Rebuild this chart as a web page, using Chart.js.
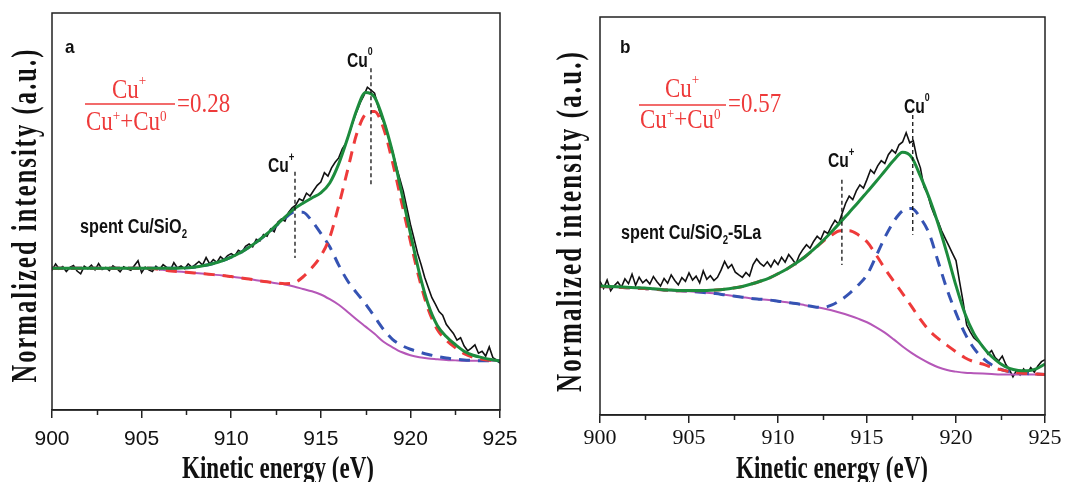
<!DOCTYPE html>
<html>
<head>
<meta charset="utf-8">
<script src="https://cdn.jsdelivr.net/npm/chart.js@4.4.1/dist/chart.umd.min.js"></script>
<style>
body { margin: 0; background: #fff; }
.panel { position: absolute; top: 0; width: 536px; height: 482px; }
</style>
</head>
<body>
<div class="panel" style="left:0"><canvas id="graficoA" width="536" height="482"></canvas></div>
<div class="panel" style="left:536px"><canvas id="graficoB" width="536" height="482"></canvas></div>
<script>
// rejilla de energia (eV): ajuste cada 0.5, medida cada 0.2
const energiaAjuste = []
for (let i = 0; i <= 50; i++) energiaAjuste.push(900 + i * 0.5)
const energiaMedida = []
for (let i = 0; i <= 125; i++) energiaMedida.push(Math.round((900 + i * 0.2) * 10) / 10)

const ticksX = [900, 905, 910, 915, 920, 925]
const ticksMenores = [902.5, 907.5, 912.5, 917.5, 922.5]

// ---- panel a: spent Cu/SiO2 ----
const medidaA = [
    35.2, 36.8, 35.5, 36.1, 34.9,
    35.9, 36.4, 35.0, 34.3, 36.2,
    35.6, 36.5, 35.3, 36.9, 35.4,
    35.9, 35.1, 36.3, 35.7, 34.8,
    36.1, 35.6, 35.2, 36.4, 37.6,
    34.6, 36.0, 35.3, 34.9, 36.2,
    35.4, 36.6, 35.9, 35.2, 37.1,
    35.8, 36.3, 35.6, 36.8, 36.0,
    36.6, 37.4, 36.5, 38.4, 36.8,
    37.9, 37.2, 38.6, 37.9, 38.9,
    39.4, 38.8, 40.2, 39.7, 41.2,
    41.8, 41.1, 43.0, 42.6, 44.2,
    43.8, 45.6, 44.9, 47.3, 48.1,
    47.6, 49.8, 50.9, 51.6, 53.2,
    52.7, 54.6, 53.9, 55.3, 56.6,
    57.4, 59.8, 58.9, 61.0, 62.4,
    63.5, 65.8, 67.2, 69.9, 72.6,
    75.1, 77.4, 79.2, 81.3, 80.6,
    79.8, 76.4, 73.5, 71.8, 68.2,
    65.3, 61.6, 58.4, 55.2, 51.0,
    46.8, 43.2, 39.5, 36.6, 33.4,
    30.8, 28.3, 26.6, 24.8, 23.9,
    21.6, 20.4, 19.3, 17.6, 18.2,
    16.1, 14.9, 15.6, 16.4, 14.3,
    14.8, 13.6, 15.9, 13.2, 12.6,
    11.8
]
const ajusteA = [
    35.7, 35.7, 35.7, 35.7, 35.7, 35.7, 35.7, 35.7, 35.7, 35.7,
    35.7, 35.7, 35.7, 35.7, 35.7, 35.8, 36.0, 36.4, 36.9, 37.6,
    38.5, 39.6, 41.0, 42.6, 44.4, 46.5, 48.6, 50.6, 52.1, 53.4,
    54.7, 57.2, 62.0, 68.5, 75.5, 80.0, 78.8, 73.0, 65.0, 55.0,
    44.5, 34.5, 26.5, 21.3, 18.5, 16.5, 14.8, 13.8, 13.2, 12.7,
    12.4
]
const cu0A = [
    35.7, 35.7, 35.7, 35.7, 35.7, 35.7, 35.7, 35.7, 35.7, 35.7,
    35.7, 35.7, 35.4, 35.1, 34.9, 34.7, 34.5, 34.3, 34.1, 33.9,
    33.6, 33.3, 33.0, 32.6, 32.3, 32.0, 31.8, 32.0, 33.5, 35.8,
    38.8, 43.5, 51.5, 60.5, 69.5, 74.5, 75.2, 71.0, 62.5, 52.5,
    42.5, 33.0, 25.3, 20.3, 17.6, 15.7, 14.2, 13.3, 12.8, 12.5,
    12.4
]
const cuMasA = [
    35.7, 35.7, 35.7, 35.7, 35.7, 35.7, 35.7, 35.7, 35.7, 35.7,
    35.7, 35.7, 35.7, 35.7, 35.7, 35.8, 36.0, 36.4, 36.9, 37.6,
    38.5, 39.6, 41.0, 42.6, 44.4, 46.4, 48.3, 49.8, 49.8, 47.6,
    44.5, 41.1, 36.5, 32.5, 29.5, 26.7, 23.5, 20.3, 17.8, 16.3,
    15.3, 14.6, 14.0, 13.5, 13.1, 12.8, 12.6, 12.5, 12.4, 12.4,
    12.4
]
const fondoA = [
    35.7, 35.7, 35.7, 35.7, 35.7, 35.7, 35.7, 35.7, 35.7, 35.7,
    35.7, 35.7, 35.4, 35.1, 34.9, 34.7, 34.5, 34.3, 34.1, 33.9,
    33.6, 33.3, 33.0, 32.6, 32.3, 31.9, 31.6, 31.1, 30.5, 29.9,
    29.1, 27.9, 26.5, 24.7, 22.8, 21.0, 19.2, 17.2, 15.8, 14.6,
    13.8, 13.3, 13.0, 12.8, 12.6, 12.5, 12.4, 12.4, 12.4, 12.4,
    12.4
]
// lineas verticales: [energia, y arriba, y abajo]
const marcaCu0A = [917.8, 86.1, 56.7]
const marcaCuMasA = [913.56, 60.0, 38.3]

// ---- panel b: spent Cu/SiO2-5La ----
const medidaB = [
    33.6, 31.8, 33.9, 31.2, 32.5,
    33.4, 32.1, 34.2, 33.0, 35.4,
    32.6, 34.6, 33.2, 34.0, 32.9,
    34.8, 33.5, 32.4, 34.3, 33.1,
    35.2, 33.8, 32.7, 34.5, 33.6,
    35.7, 33.9, 34.9, 33.2, 36.2,
    34.1, 35.0, 33.8, 34.6, 36.4,
    38.6, 36.9, 37.8, 35.9, 35.2,
    34.6, 35.8, 34.9, 37.8, 39.2,
    38.1, 37.4, 38.5, 37.2, 38.9,
    37.8, 39.6, 38.4, 40.3, 39.2,
    37.9, 40.2, 41.6, 42.8, 41.9,
    43.6, 44.9, 44.1, 46.2, 45.6,
    47.4, 48.9, 48.0, 50.6, 53.2,
    55.0, 54.1, 56.3, 57.8, 57.0,
    59.2, 61.6, 60.7, 62.6, 63.9,
    63.2, 65.4, 66.6, 65.8, 67.9,
    68.6, 70.9, 68.4, 68.9, 64.6,
    62.1, 57.3, 55.6, 52.4, 50.1,
    48.6, 46.2, 44.3, 42.5, 40.6,
    38.8, 33.5, 28.4, 22.6, 20.9,
    19.4, 18.6, 17.9, 16.8, 15.3,
    16.2, 14.4, 13.6, 14.8, 12.7,
    11.4, 9.6, 11.2, 10.1, 11.6,
    10.4, 11.9, 10.8, 12.3, 13.4,
    13.9
]
const ajusteB = [
    32.4, 32.3, 32.2, 32.1, 32.0, 31.9, 31.7, 31.5, 31.4, 31.3,
    31.3, 31.3, 31.3, 31.4, 31.6, 31.9, 32.3, 32.9, 33.6, 34.4,
    35.5, 36.7, 38.1, 39.7, 41.6, 43.7, 46.0, 48.4, 50.9, 53.4,
    56.0, 58.6, 61.3, 64.0, 66.0, 64.8, 60.0, 54.5, 48.0, 40.5,
    32.5, 25.5, 20.5, 17.2, 14.7, 12.9, 11.7, 11.2, 11.1, 11.6,
    12.8
]
const cuMasB = [
    32.3, 32.2, 32.1, 32.0, 31.9, 31.8, 31.6, 31.5, 31.3, 31.2,
    31.2, 31.2, 31.3, 31.4, 31.6, 31.9, 32.3, 32.9, 33.6, 34.4,
    35.5, 36.7, 38.1, 39.7, 41.6, 43.5, 45.2, 46.3, 46.3, 45.3,
    43.5, 40.3, 36.8, 33.6, 30.5, 27.3, 24.0, 21.2, 19.2, 17.5,
    15.9, 14.4, 13.4, 12.8, 12.0, 11.4, 10.9, 10.6, 10.4, 10.3,
    10.2
]
const cu0B = [
    32.3, 32.2, 32.1, 32.0, 31.9, 31.8, 31.6, 31.5, 31.3, 31.2,
    31.1, 30.9, 30.7, 30.5, 30.2, 29.9, 29.6, 29.3, 29.1, 28.9,
    28.6, 28.3, 28.0, 27.6, 27.2, 27.0, 27.6, 28.8, 30.5, 32.6,
    35.2, 39.8, 44.6, 48.6, 51.3, 51.9, 49.5, 45.5, 38.5, 31.5,
    25.6, 20.5, 16.8, 14.3, 12.6, 11.5, 10.9, 10.6, 10.4, 10.3,
    10.2
]
const fondoB = [
    32.3, 32.2, 32.1, 32.0, 31.9, 31.8, 31.6, 31.5, 31.3, 31.2,
    31.1, 30.9, 30.7, 30.5, 30.2, 29.9, 29.6, 29.3, 29.1, 28.9,
    28.6, 28.3, 28.0, 27.6, 27.2, 26.8, 26.3, 25.7, 25.0, 24.2,
    23.3, 22.1, 20.7, 19.0, 17.2, 15.6, 14.2, 13.0, 12.0, 11.3,
    10.9, 10.6, 10.5, 10.4, 10.3, 10.2, 10.2, 10.2, 10.2, 10.2,
    10.2
]
const marcaCu0B = [917.57, 75.4, 45.3]
const marcaCuMasB = [913.59, 59.1, 37.7]

const rojo = "#ee3a3a"
const azul = "#3553b3"
const verde = "#1d8c3d"
const morado = "#b557b8"

const serif = (s, b) => `${b ? "bold " : ""}${s}px "Liberation Serif", "Times New Roman", serif`
const sansB = s => `bold ${s}px "Liberation Sans", Arial, sans-serif`

function puntos(xs, ys) {
    return ys.map((y, i) => ({ x: xs[i], y: y }))
}

function marca(m) {
    return [{ x: m[0], y: m[1] }, { x: m[0], y: m[2] }]
}

// dibuja trozos de texto seguidos (superindices / subindices)
function trozos(ctx, x, y, partes, color) {
    ctx.save()
    ctx.fillStyle = color
    ctx.textBaseline = "alphabetic"
    ctx.textAlign = "left"
    for (const p of partes) {
        ctx.font = p.f
        const w = ctx.measureText(p.t).width * p.sx
        ctx.save()
        ctx.translate(x, y + (p.dy || 0))
        ctx.scale(p.sx, 1)
        ctx.fillText(p.t, 0, 0)
        ctx.restore()
        x += w
    }
    ctx.restore()
    return x
}

function textoAjustado(ctx, s, font, largo, espacio) {
    ctx.font = font
    ctx.letterSpacing = espacio || "0px"
    const w = ctx.measureText(s).width
    ctx.textAlign = "center"
    ctx.textBaseline = "alphabetic"
    ctx.scale(largo / w, 1)
    ctx.fillText(s, 0, 0)
}

function crearPanel(id, p) {
    const anotaciones = {
        id: "anotaciones",
        afterDraw(chart) {
            const ctx = chart.ctx
            const a = chart.chartArea
            const sx = chart.scales.x
            ctx.save()
            ctx.strokeStyle = "#222"
            ctx.lineWidth = 1.5
            ctx.strokeRect(a.left, a.top, a.right - a.left, a.bottom - a.top)
            ctx.beginPath()
            ticksMenores.forEach(v => {
                const x = Math.round(sx.getPixelForValue(v)) + 0.5
                ctx.moveTo(x, a.bottom)
                ctx.lineTo(x, a.bottom + 5)
            })
            ctx.stroke()

            // titulo eje x
            ctx.fillStyle = "#111"
            ctx.save()
            ctx.translate(p.tituloX[0], p.tituloX[1])
            textoAjustado(ctx, "Kinetic energy (eV)", serif(31, true), 192)
            ctx.restore()

            // titulo eje y
            ctx.save()
            ctx.translate(p.tituloY[0], p.tituloY[1])
            ctx.rotate(-Math.PI / 2)
            textoAjustado(ctx, "Normalized intensity (a.u.)", serif(35, true), p.tituloY[2], "3px")
            ctx.restore()

            // letra del panel
            trozos(ctx, p.letra[0], p.letra[1], [{ t: p.letra[2], f: sansB(19), sx: 0.9 }], "#111")

            // fraccion roja
            const f = p.fraccion
            trozos(ctx, f.num[0], f.num[1], [
                { t: "Cu", f: serif(27), sx: 0.85 },
                { t: "+", f: serif(15), sx: 0.88, dy: -13 }
            ], rojo)
            ctx.strokeStyle = rojo
            ctx.lineWidth = 1.5
            ctx.beginPath()
            ctx.moveTo(f.linea[0], f.linea[2])
            ctx.lineTo(f.linea[1], f.linea[2])
            ctx.stroke()
            trozos(ctx, f.den[0], f.den[1], [
                { t: "Cu", f: serif(27), sx: 0.85 },
                { t: "+", f: serif(15), sx: 0.88, dy: -10 },
                { t: "+Cu", f: serif(27), sx: 0.85 },
                { t: "0", f: serif(15), sx: 0.88, dy: -9 }
            ], rojo)
            trozos(ctx, f.igual[0], f.igual[1], [{ t: f.igual[2], f: serif(27), sx: 0.85 }], rojo)

            // etiquetas Cu0 / Cu+
            trozos(ctx, p.cu0[0], p.cu0[1], [
                { t: "Cu", f: sansB(20), sx: 0.78 },
                { t: "0", f: sansB(11), sx: 0.8, dy: -12 }
            ], "#111")
            trozos(ctx, p.cuMas[0], p.cuMas[1], [
                { t: "Cu", f: sansB(20), sx: 0.78 },
                { t: "+", f: sansB(12), sx: 0.8, dy: -11 }
            ], "#111")

            // nombre de la muestra
            trozos(ctx, p.muestra[0], p.muestra[1], p.muestra[2], "#111")
            ctx.restore()
        }
    }

    new Chart(document.getElementById(id), {
        type: "line",
        data: {
            datasets: [
                { data: marca(p.m0), borderColor: "#111", borderWidth: 1.3, borderDash: [4, 3], pointRadius: 0 },
                { data: marca(p.mMas), borderColor: "#111", borderWidth: 1.3, borderDash: [4, 3], pointRadius: 0 },
                { data: puntos(energiaAjuste, p.ajuste), borderColor: verde, borderWidth: 3, pointRadius: 0, cubicInterpolationMode: "monotone" },
                { data: puntos(energiaAjuste, p.rojo), borderColor: rojo, borderWidth: 3, borderDash: [11, 8], pointRadius: 0, cubicInterpolationMode: "monotone" },
                { data: puntos(energiaAjuste, p.azul), borderColor: azul, borderWidth: 3, borderDash: [11, 8], pointRadius: 0, cubicInterpolationMode: "monotone" },
                { data: puntos(energiaAjuste, p.fondo), borderColor: morado, borderWidth: 2, pointRadius: 0, cubicInterpolationMode: "monotone" },
                { data: puntos(energiaMedida, p.medida), borderColor: "#111", borderWidth: 1.6, pointRadius: 0, tension: 0 }
            ]
        },
        options: {
            responsive: false,
            animation: false,
            events: [],
            devicePixelRatio: 1,
            layout: { padding: p.padding },
            plugins: { legend: { display: false }, tooltip: { enabled: false } },
            scales: {
                x: {
                    type: "linear",
                    min: 900,
                    max: 925,
                    afterBuildTicks: s => { s.ticks = ticksX.map(v => ({ value: v })) },
                    afterFit: s => { s.height = p.altoX },
                    ticks: { font: p.fuenteTicks, color: "#111", padding: p.padTicks, maxRotation: 0 },
                    grid: { drawOnChartArea: false, drawTicks: true, tickLength: 8, color: "#222", lineWidth: 1.5 },
                    border: { color: "#222", width: 1.5 }
                },
                y: { display: false, min: 0, max: 100 }
            }
        },
        plugins: [anotaciones]
    })
}

crearPanel("graficoA", {
    medida: medidaA, ajuste: ajusteA, rojo: cu0A, azul: cuMasA, fondo: fondoA,
    m0: marcaCu0A, mMas: marcaCuMasA,
    padding: { left: 52, right: 36, top: 13, bottom: 0 },
    altoX: 72, padTicks: 9,
    fuenteTicks: { family: '"Liberation Sans", Arial, sans-serif', size: 21 },
    tituloX: [278, 478],
    tituloY: [36, 215, 335],
    letra: [65, 53, "a"],
    fraccion: { num: [112, 98], linea: [85, 175, 104], den: [86, 130], igual: [177, 112, "=0.28"] },
    cu0: [347, 67],
    cuMas: [268, 172],
    muestra: [80, 233, [
        { t: "spent Cu/SiO", f: sansB(20), sx: 0.81 },
        { t: "2", f: sansB(12), sx: 0.8, dy: 5 }
    ]]
})

crearPanel("graficoB", {
    medida: medidaB, ajuste: ajusteB, rojo: cuMasB, azul: cu0B, fondo: fondoB,
    m0: marcaCu0B, mMas: marcaCuMasB,
    padding: { left: 64, right: 27, top: 17, bottom: 0 },
    altoX: 67, padTicks: 2,
    fuenteTicks: { family: '"Liberation Serif", "Times New Roman", serif', size: 22 },
    tituloX: [296, 478],
    tituloY: [45, 221, 342],
    letra: [84, 53, "b"],
    fraccion: { num: [129, 97], linea: [103, 190, 105], den: [104, 128], igual: [192, 112, "=0.57"] },
    cu0: [368, 113],
    cuMas: [292, 167],
    muestra: [85, 239, [
        { t: "spent Cu/SiO", f: sansB(20), sx: 0.81 },
        { t: "2", f: sansB(12), sx: 0.8, dy: 5 },
        { t: "-5La", f: sansB(20), sx: 0.81 }
    ]]
})
</script>
</body>
</html>
